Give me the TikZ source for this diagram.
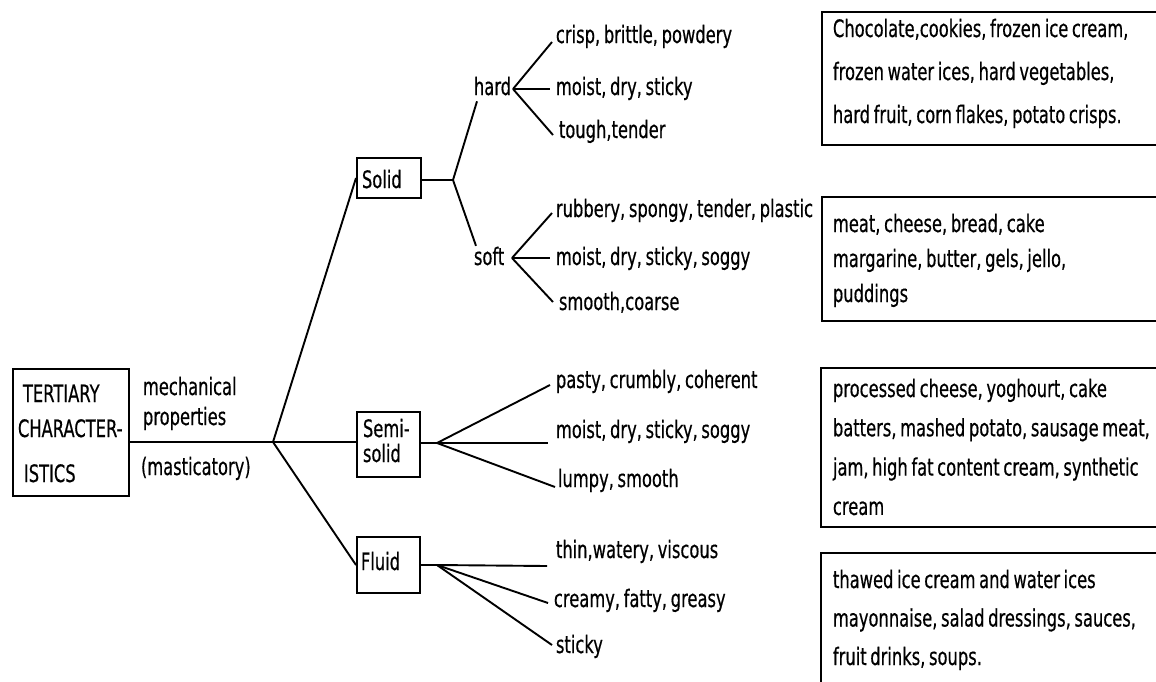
\documentclass[tikz,border=0pt]{standalone}
\usepackage{fontspec}
\setmainfont{DejaVu Sans}[FakeStretch=0.68,WordSpace=0.7,FakeBold=0.5]
\usetikzlibrary{calc}

\begin{document}
\begin{tikzpicture}[x=1pt,y=1pt,yscale=-1,xscale=1,
  line width=1.9pt,
  lbl/.style={inner sep=0pt,anchor=base west,font=\fontsize{24}{28}\selectfont},
  catbox/.style={draw,line width=2pt,inner sep=0pt},
  foodbox/.style={draw,line width=2pt}]
\clip (0,0) rectangle (1156,681);

%Shape: Rectangle [id:tertiary]
\node[catbox,minimum width=116,minimum height=127] (tert) at (71,432.5) {};
% Text Node
\node[lbl] (tert1) at (22,402) {TERTIARY};
\node[lbl] (tert2) at (17,437) {CHARACTER-};
\node[lbl] (tert3) at (23,482) {ISTICS};
% Text Node
\node[lbl] (mech1) at (142,395) {mechanical};
\node[lbl] (mech2) at (142,425) {properties};
\node[lbl] (mech3) at (140,475) {(masticatory)};

%Shape: Rectangle [id:solid]
\node[catbox,minimum width=64,minimum height=40] (solid) at (389,178) {};
\node[lbl] (solidtxt) at (361,188) {Solid};
%Shape: Rectangle [id:semisolid]
\node[catbox,minimum width=63,minimum height=65] (semi) at (388.5,444.5) {};
\node[lbl] (semitxt1) at (362,437) {Semi-};
\node[lbl] (semitxt2) at (362,462) {solid};
%Shape: Rectangle [id:fluid]
\node[catbox,minimum width=63,minimum height=56] (fluid) at (388.5,565) {};
\node[lbl] (fluidtxt) at (360,570) {Fluid};

%Straight Lines [id:main fork]
\coordinate (mfork) at (273,442);
\draw (tert.east |- mfork) -- (mfork);
\draw (mfork) -- (solid.west);
\draw (mfork) -- (semi.west |- mfork);
\draw (mfork) -- (fluid.west);

% Text Node
\node[lbl] (hard) at (473,95) {hard};
\node[lbl] (soft) at (473,265) {soft};

%Straight Lines [id:solid fork]
\coordinate (sfork) at (453,180);
\draw (solid.east |- sfork) -- (sfork);
\draw ($(hard.south west)+(4,5)$) -- (sfork) -- ($(soft.north west)+(3,0)$);

% Text Node
\node[lbl] (crisp) at (555,43) {crisp, brittle, powdery};
\node[lbl] (hmoist) at (555,95) {moist, dry, sticky};
\node[lbl] (tough) at (558,138) {tough,tender};
\node[lbl] (rubbery) at (555,217) {rubbery, spongy, tender, plastic};
\node[lbl] (smoist) at (555,265) {moist, dry, sticky, soggy};
\node[lbl] (smooth) at (558,310) {smooth,coarse};

%Straight Lines [id:hard fork]
\coordinate (hfork) at (513,89);
\draw (hfork) -- ($(crisp.base west)+(-3,-1)$);
\draw (hfork) -- ($(hmoist.base west)+(-5,-6)$);
\draw (hfork) -- ($(tough.base west)+(-5,-3)$);
%Straight Lines [id:soft fork]
\coordinate (softfork) at (512,258);
\draw (softfork) -- ($(rubbery.base west)+(-3,-4)$);
\draw (softfork) -- ($(smoist.base west)+(-5,-7)$);
\draw (softfork) -- ($(smooth.base west)+(-5,-8)$);

% Text Node
\node[lbl] (pasty) at (555,388) {pasty, crumbly, coherent};
\node[lbl] (semoist) at (555,438) {moist, dry, sticky, soggy};
\node[lbl] (lumpy) at (557,487) {lumpy, smooth};
%Straight Lines [id:semisolid fork]
\coordinate (semfork) at (437,443);
\draw (semi.east |- semfork) -- (semfork);
\draw (semfork) -- ($(pasty.base west)+(-5,-3)$);
\draw (semfork) -- ($(semoist.base west)+(-7,5)$);
\draw (semfork) -- ($(lumpy.base west)+(-2,0)$);

% Text Node
\node[lbl] (thin) at (555,558) {thin,watery, viscous};
\node[lbl] (creamy) at (553,607) {creamy, fatty, greasy};
\node[lbl] (sticky) at (555,653) {sticky};
%Straight Lines [id:fluid fork]
\coordinate (flfork) at (437,565);
\draw (fluid.east |- flfork) -- (flfork);
\draw (flfork) -- ($(thin.base west)+(-8,8)$);
\draw (flfork) -- ($(creamy.base west)+(-5,-4)$);
\draw (flfork) -- ($(sticky.base west)+(-3,-8)$);

%Shape: Rectangle [id:food boxes]
\draw[foodbox] (822,12) rectangle (1175,145);
\draw[foodbox] (822,197) rectangle (1175,321);
\draw[foodbox] (821,368) rectangle (1175,527);
\draw[foodbox] (821,553) rectangle (1175,700);

% Text Node
\foreach \t [count=\i] in {{Chocolate,cookies, frozen ice cream,},{frozen water ices, hard vegetables,},{hard fruit, corn flakes, potato crisps.}}
  \node[lbl] (hardfood\i) at (832,37+43*\i-43) {\t};
\foreach \t [count=\i] in {{meat, cheese, bread, cake},{margarine, butter, gels, jello,},{puddings}}
  \node[lbl] (softfood\i) at (832,232+35*\i-35) {\t};
\foreach \t [count=\i] in {{processed cheese, yoghourt, cake},{batters, mashed potato, sausage meat,},{jam, high fat content cream, synthetic},{cream}}
  \node[lbl] (semifood\i) at (832,397+39.3*\i-39.3) {\t};
\foreach \t [count=\i] in {{thawed ice cream and water ices},{mayonnaise, salad dressings, sauces,},{fruit drinks, soups.}}
  \node[lbl] (fluidfood\i) at (832,588+38.5*\i-38.5) {\t};

\end{tikzpicture}
\end{document}
